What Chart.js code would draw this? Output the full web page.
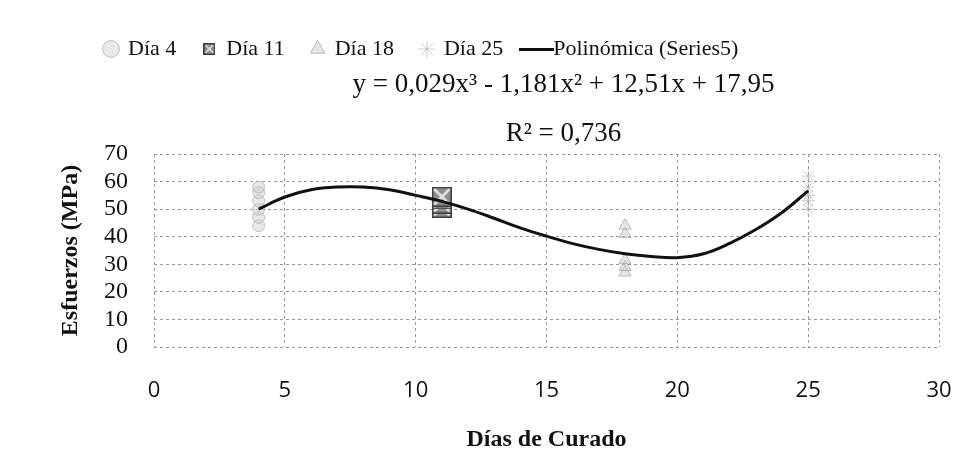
<!DOCTYPE html>
<html>
<head>
<meta charset="utf-8">
<script src="https://cdn.jsdelivr.net/npm/chart.js@4.4.1/dist/chart.umd.min.js"></script>
<style>
  html, body { margin: 0; background: #fff; overflow: hidden; }
  #wrap { width: 971px; height: 454px; position: relative; }
</style>
</head>
<body>
<div id="wrap"><canvas id="chart"></canvas></div>
<script>
// valores (Esfuerzos en MPa)
const day4 = [44, 47, 50, 53, 56, 58];
const day11 = [50.5, 52, 53.5, 54.5];
const day18 = [27, 29, 31.5, 41, 44];
const day25 = [50, 53, 55, 58, 62];

// linea de tendencia polinomica, leida punto a punto
const trendX = [4, 5, 6, 7, 8, 9, 10, 11, 12, 13, 14, 15, 16, 17, 18, 19, 20, 21, 22, 23, 24, 25];
const trendY = [50, 54.4, 57, 58, 58, 57, 55, 52.8, 50, 46.7, 43.2, 40.2, 37.5, 35.4, 33.8, 32.8, 32.4, 33.8, 37.6, 42.6, 48.8, 56.6];

const xTicks = [0, 5, 10, 15, 20, 25, 30];
const yTicks = [0, 10, 20, 30, 40, 50, 60, 70];
const equationLines = ['y = 0,029x³ - 1,181x² + 12,51x + 17,95', 'R² = 0,736'];

const serif = '"Liberation Serif", "Times New Roman", serif';

const toPoints = (x, ys) => ys.map(y => ({ x: x, y: y }));

// marcador cuadrado gris con aspa clara (como el de Excel impreso)
function makeSquare(size) {
    const c = document.createElement('canvas');
    c.width = size;
    c.height = size;
    const g = c.getContext('2d');
    g.fillStyle = '#8f8f8f';
    g.fillRect(0, 0, size, size);
    g.strokeStyle = 'rgba(235,235,235,0.9)';
    g.lineWidth = size / 8;
    g.beginPath();
    g.moveTo(2, 2); g.lineTo(size - 2, size - 2);
    g.moveTo(size - 2, 2); g.lineTo(2, size - 2);
    g.stroke();
    g.strokeStyle = '#3f3f3f';
    g.lineWidth = 1.5;
    g.strokeRect(0.75, 0.75, size - 1.5, size - 1.5);
    return c;
}

function makeLegendLine(w) {
    const c = document.createElement('canvas');
    c.width = w;
    c.height = 3;
    const g = c.getContext('2d');
    g.fillStyle = '#111';
    g.fillRect(0, 0, w, 3);
    return c;
}

const squareBig = makeSquare(20);
const squareSmall = makeSquare(12);
const legendLine = makeLegendLine(35);

const equationPlugin = {
    id: 'equation',
    beforeInit(chart) {
        // deja sitio para la ecuacion entre la leyenda y el area del grafico
        const fit = chart.legend.fit;
        chart.legend.fit = function () {
            fit.call(this);
            this.height = 143;
        };
    },
    afterLayout(chart) {
        // la leyenda de Excel empieza algo a la izquierda del centro
        chart.legend.left = 78;
    },
    afterDraw(chart) {
        const ctx = chart.ctx;
        const x = chart.scales.x.getPixelForValue(15.65);
        const top = chart.chartArea.top;
        ctx.save();
        ctx.font = '27px ' + serif;
        ctx.fillStyle = '#111';
        ctx.textAlign = 'center';
        ctx.textBaseline = 'middle';
        ctx.fillText(equationLines[0], x, top - 69);
        ctx.fillText(equationLines[1], x, top - 20);
        ctx.restore();
    }
};

new Chart(document.getElementById('chart').getContext('2d'), {
    data: {
        datasets: [{
            type: 'line',
            label: 'Polinómica (Series5)',
            data: trendX.map((x, i) => ({ x: x, y: trendY[i] })),
            borderColor: '#111',
            borderWidth: 3,
            pointRadius: 0,
            pointHoverRadius: 0,
            tension: 0.4,
            fill: false
        }, {
            type: 'scatter',
            label: 'Día 4',
            data: toPoints(4, day4),
            pointStyle: 'circle',
            pointRadius: 6,
            backgroundColor: 'rgba(205,205,205,0.45)',
            borderColor: 'rgba(150,150,150,0.5)',
            borderWidth: 1
        }, {
            type: 'scatter',
            label: 'Día 11',
            data: toPoints(11, day11),
            pointStyle: squareBig,
            pointRadius: 10,
            backgroundColor: '#8f8f8f',
            borderColor: '#3f3f3f'
        }, {
            type: 'scatter',
            label: 'Día 18',
            data: toPoints(18, day18),
            pointStyle: 'triangle',
            pointRadius: 7,
            backgroundColor: 'rgba(205,205,205,0.5)',
            borderColor: 'rgba(150,150,150,0.6)',
            borderWidth: 1
        }, {
            type: 'scatter',
            label: 'Día 25',
            data: toPoints(25, day25),
            pointStyle: 'star',
            pointRadius: 7,
            backgroundColor: 'rgba(210,210,210,0.4)',
            borderColor: 'rgba(170,170,170,0.6)',
            borderWidth: 1
        }]
    },
    options: {
        responsive: true,
        maintainAspectRatio: false,
        animation: false,
        layout: { padding: { top: 11, right: 32, bottom: 0, left: 0 } },
        plugins: {
            legend: {
                position: 'top',
                align: 'start',
                labels: {
                    usePointStyle: true,
                    boxWidth: 12,
                    boxHeight: 12,
                    padding: 27,
                    color: '#111',
                    font: { family: serif, size: 22 },
                    generateLabels: chart => {
                        const items = Chart.defaults.plugins.legend.labels.generateLabels(chart);
                        items.forEach(it => {
                            if (it.datasetIndex === 0) it.pointStyle = legendLine;
                            if (it.datasetIndex === 2) it.pointStyle = squareSmall;
                        });
                        return items;
                    },
                    sort: (a, b) => (a.datasetIndex === 0 ? 1 : b.datasetIndex === 0 ? -1 : a.datasetIndex - b.datasetIndex)
                }
            },
            tooltip: { enabled: false }
        },
        scales: {
            x: {
                type: 'linear',
                min: 0,
                max: 30,
                afterBuildTicks: axis => { axis.ticks = xTicks.map(v => ({ value: v })); },
                afterFit: axis => { axis.height = 107; },
                grid: { color: '#9a9a9a', lineWidth: 1, drawTicks: true, tickLength: 31, tickColor: 'transparent' },
                border: { display: false, dash: [3, 3] },
                ticks: { padding: 0, autoSkip: false, maxRotation: 0, color: '#111', font: { family: '"Open Sans", sans-serif', size: 22 } },
                title: {
                    display: true,
                    text: 'Días de Curado',
                    color: '#111',
                    padding: { top: 0, bottom: 0 },
                    font: { family: serif, size: 24, weight: 'bold' }
                }
            },
            y: {
                min: 0,
                max: 70,
                afterBuildTicks: axis => { axis.ticks = yTicks.map(v => ({ value: v })); },
                afterFit: axis => { axis.width = 154; },
                grid: { color: '#9a9a9a', lineWidth: 1, drawTicks: false },
                border: { display: false, dash: [3, 3] },
                ticks: { padding: 26, autoSkip: false, color: '#111', font: { family: serif, size: 24 } },
                title: {
                    display: true,
                    text: 'Esfuerzos (MPa)',
                    color: '#111',
                    padding: { top: 56, bottom: 0 },
                    font: { family: serif, size: 24, weight: 'bold' }
                }
            }
        }
    },
    plugins: [equationPlugin]
});
</script>
</body>
</html>
